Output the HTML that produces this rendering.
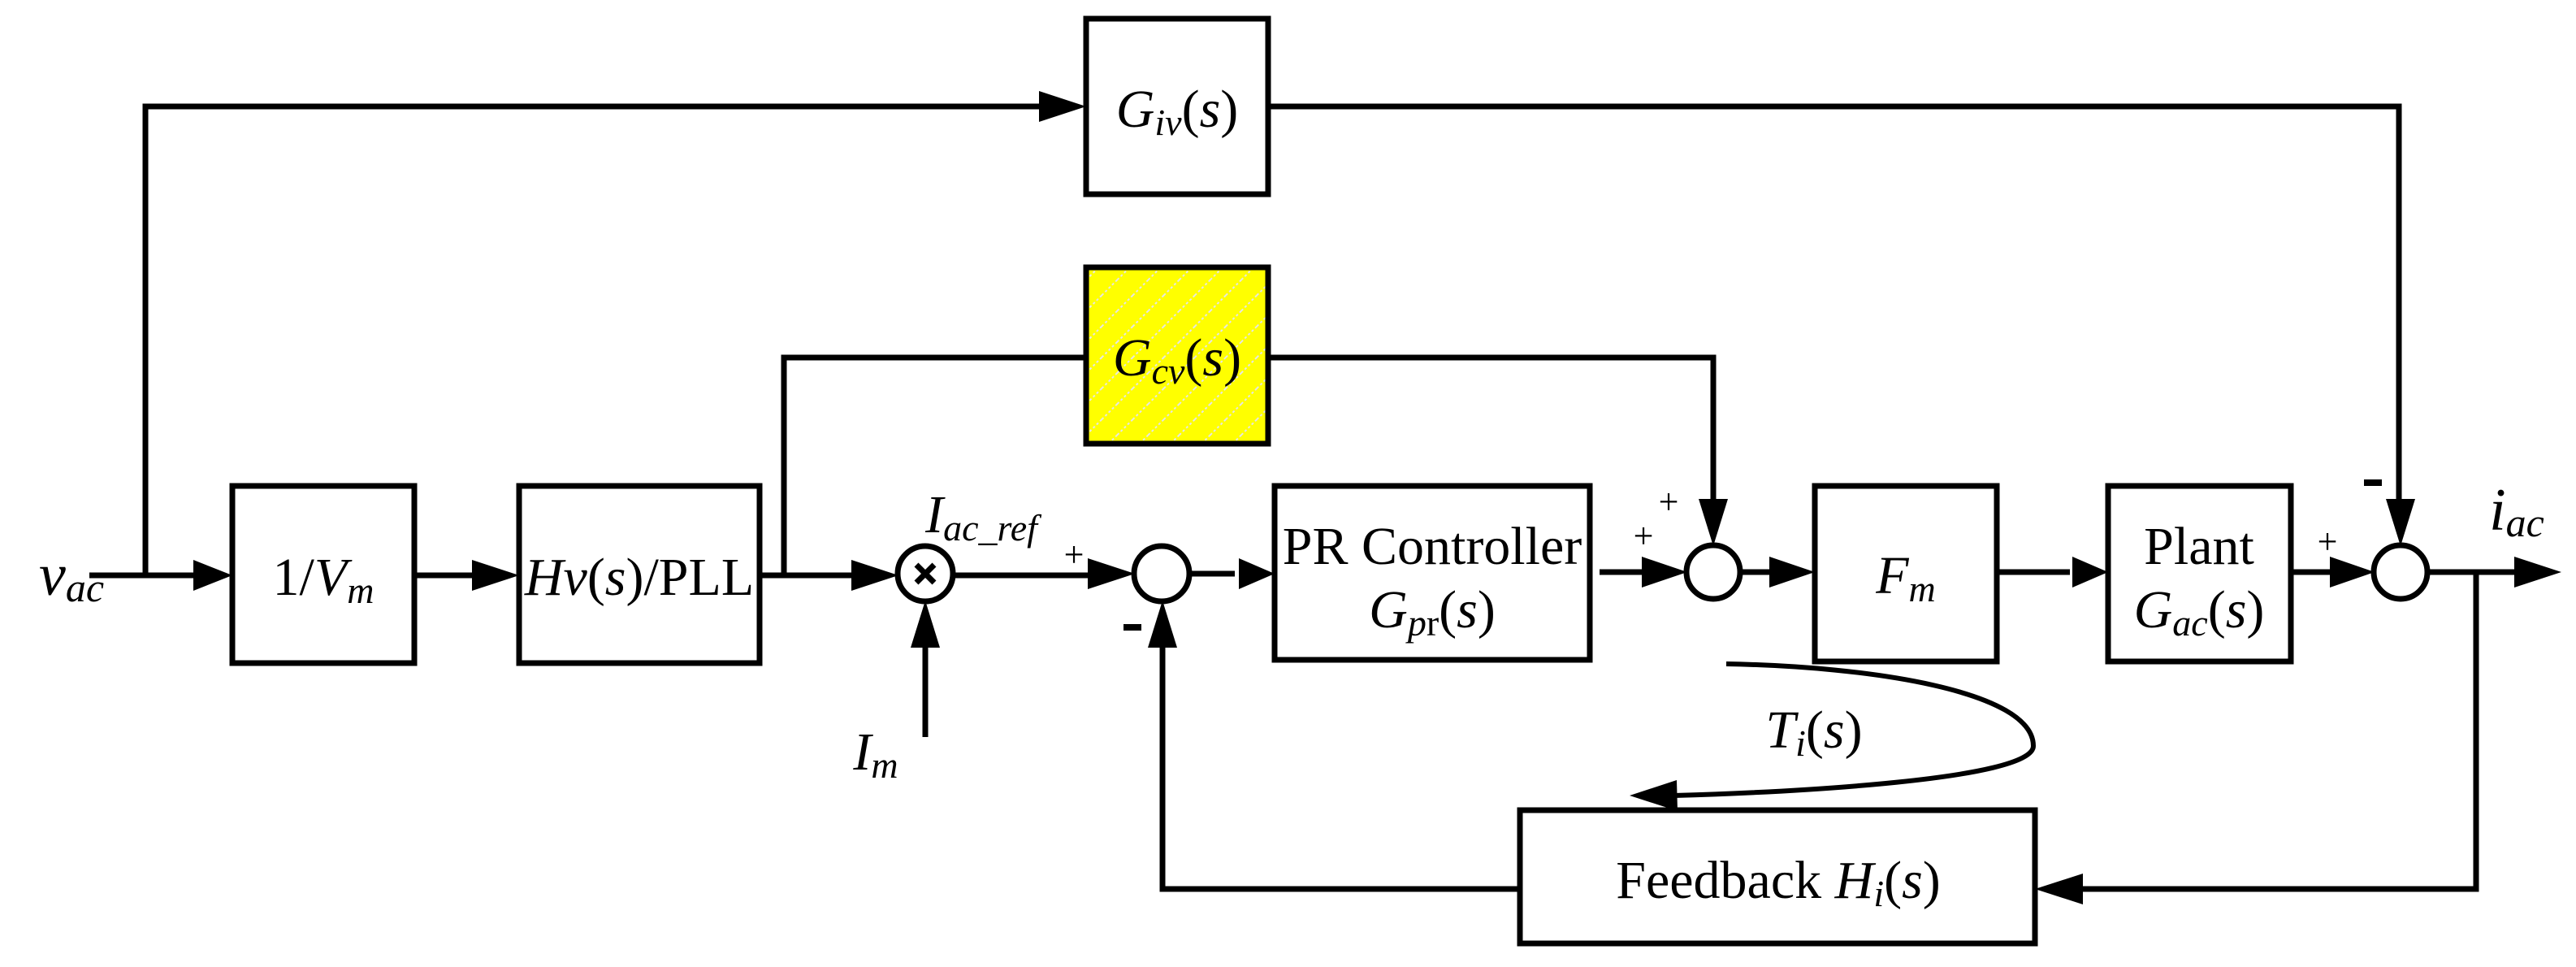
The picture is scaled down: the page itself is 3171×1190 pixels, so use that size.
<!DOCTYPE html>
<html><head><meta charset="utf-8"><style>
html,body{margin:0;padding:0;background:#fff;}
svg{display:block;}
text{font-family:"Liberation Serif",serif;fill:#000;}
</style></head><body>
<svg width="3171" height="1190" viewBox="0 0 3171 1190" xmlns="http://www.w3.org/2000/svg">
<defs>
<pattern id="h" width="27" height="27" patternUnits="userSpaceOnUse" patternTransform="rotate(45)">
<rect width="27" height="27" fill="#ffff00"/>
<line x1="0" y1="0" x2="0" y2="27" stroke="#e6e6e6" stroke-width="4" stroke-dasharray="3,3"/>
</pattern>
</defs>
<g stroke="#000" stroke-width="7" fill="none">
<rect x="1337" y="23" width="224" height="216" fill="#fff"/>
<rect x="1337" y="329" width="224" height="217" fill="url(#h)"/>
<rect x="286" y="598" width="224" height="218" fill="#fff"/>
<rect x="639" y="598" width="296" height="218" fill="#fff"/>
<rect x="1569" y="598" width="388" height="214" fill="#fff"/>
<rect x="2234" y="598" width="224" height="216" fill="#fff"/>
<rect x="2595" y="598" width="225" height="216" fill="#fff"/>
<rect x="1871" y="997" width="634" height="164" fill="#fff"/>
<circle cx="1139" cy="706" r="34" fill="#fff"/>
<circle cx="1430" cy="706" r="34"/>
<circle cx="2109" cy="704" r="33"/>
<circle cx="2955" cy="704" r="33"/>
<polyline points="110,708 240,708"/>
<polyline points="179,708 179,131 1285,131"/>
<polyline points="510,708 590,708"/>
<polyline points="935,708 1085,708"/>
<polyline points="965,708 965,440 1337,440"/>
<polyline points="1172,708 1378,708"/>
<polyline points="1139,907 1139,792"/>
<polyline points="1463,706 1520,706"/>
<polyline points="1969,704 2055,704"/>
<polyline points="1561,440 2109,440 2109,620"/>
<polyline points="2141,704 2185,704"/>
<polyline points="2458,704 2548,704"/>
<polyline points="2820,704 2905,704"/>
<polyline points="1561,131 2953,131 2953,620"/>
<polyline points="2987,704 3100,704"/>
<polyline points="3048,704 3048,1094 2560,1094"/>
<polyline points="1871,1094 1431,1094 1431,790"/>
<path d="M2125,817 C2300,820 2503,850 2503,918 C2503,960 2200,975 2060,979" stroke-width="6"/>
<path d="M1128,695 L1150,717 M1150,695 L1128,717" stroke-width="7"/>
</g>
<g fill="#000">
<polygon points="286,708 238,689 238,727"/>
<polygon points="639,708 581,689 581,727"/>
<polygon points="1106,708 1048,689 1048,727"/>
<polygon points="1337,131 1279,112 1279,150"/>
<polygon points="1397,706 1339,687 1339,725"/>
<polygon points="1569,706 1525,687 1525,725"/>
<polygon points="1139,739 1121,797 1157,797"/>
<polygon points="1431,739 1413,797 1449,797"/>
<polygon points="2077,704 2021,685 2021,723"/>
<polygon points="2109,672 2091,614 2127,614"/>
<polygon points="2234,704 2178,685 2178,723"/>
<polygon points="2595,704 2551,685 2551,723"/>
<polygon points="2923,704 2868,685 2868,723"/>
<polygon points="2955,672 2937,614 2973,614"/>
<polygon points="3153,704 3095,685 3095,723"/>
<polygon points="2505,1094 2564,1075 2564,1113"/>
<polygon points="2006,979 2064,960 2065,998"/>
<rect x="1383" y="768" width="22" height="8"/>
<rect x="2910" y="590" width="22" height="8"/>
</g>
<g font-size="66">
<text x="48" y="732" font-style="italic" font-size="74">v<tspan font-size="50" dy="8">ac</tspan></text>
<text x="1449" y="156" text-anchor="middle"><tspan font-style="italic">G</tspan><tspan font-style="italic" font-size="46" dy="10">iv</tspan><tspan dy="-10">(</tspan><tspan font-style="italic">s</tspan>)</text>
<text x="1449" y="462" text-anchor="middle"><tspan font-style="italic">G</tspan><tspan font-style="italic" font-size="46" dy="10">cv</tspan><tspan dy="-10">(</tspan><tspan font-style="italic">s</tspan>)</text>
<text x="398" y="732" text-anchor="middle">1/<tspan font-style="italic">V</tspan><tspan font-style="italic" font-size="46" dy="10">m</tspan></text>
<text x="787" y="732" text-anchor="middle"><tspan font-style="italic">Hv</tspan>(<tspan font-style="italic">s</tspan>)/PLL</text>
<text x="1208" y="655" text-anchor="middle" font-style="italic">I<tspan font-size="46" dy="10">ac_ref</tspan></text>
<text x="1078" y="947" text-anchor="middle" font-style="italic">I<tspan font-size="46" dy="10">m</tspan></text>
<text x="1763" y="694" text-anchor="middle">PR Controller</text>
<text x="1763" y="772" text-anchor="middle"><tspan font-style="italic">G</tspan><tspan font-size="46" dy="10"><tspan font-style="italic">p</tspan>r</tspan><tspan dy="-10">(</tspan><tspan font-style="italic">s</tspan>)</text>
<text x="2346" y="730" text-anchor="middle" font-style="italic">F<tspan font-size="46" dy="10">m</tspan></text>
<text x="2707" y="694" text-anchor="middle">Plant</text>
<text x="2707" y="772" text-anchor="middle"><tspan font-style="italic">G</tspan><tspan font-style="italic" font-size="46" dy="10">ac</tspan><tspan dy="-10">(</tspan><tspan font-style="italic">s</tspan>)</text>
<text x="3098" y="652" text-anchor="middle" font-style="italic" font-size="74">i<tspan font-size="50" dy="8">ac</tspan></text>
<text x="2233" y="920" text-anchor="middle"><tspan font-style="italic">T</tspan><tspan font-style="italic" font-size="46" dy="10">i</tspan><tspan dy="-10">(</tspan><tspan font-style="italic">s</tspan>)</text>
<text x="2189" y="1105" text-anchor="middle">Feedback  <tspan font-style="italic">H</tspan><tspan font-style="italic" font-size="46" dy="10">i</tspan><tspan dy="-10">(</tspan><tspan font-style="italic">s</tspan>)</text>
<text x="1322" y="697" text-anchor="middle" font-size="44">+</text>
<text x="2023" y="674" text-anchor="middle" font-size="44">+</text>
<text x="2054" y="632" text-anchor="middle" font-size="44">+</text>
<text x="2865" y="681" text-anchor="middle" font-size="44">+</text>
</g>
</svg>
</body></html>
